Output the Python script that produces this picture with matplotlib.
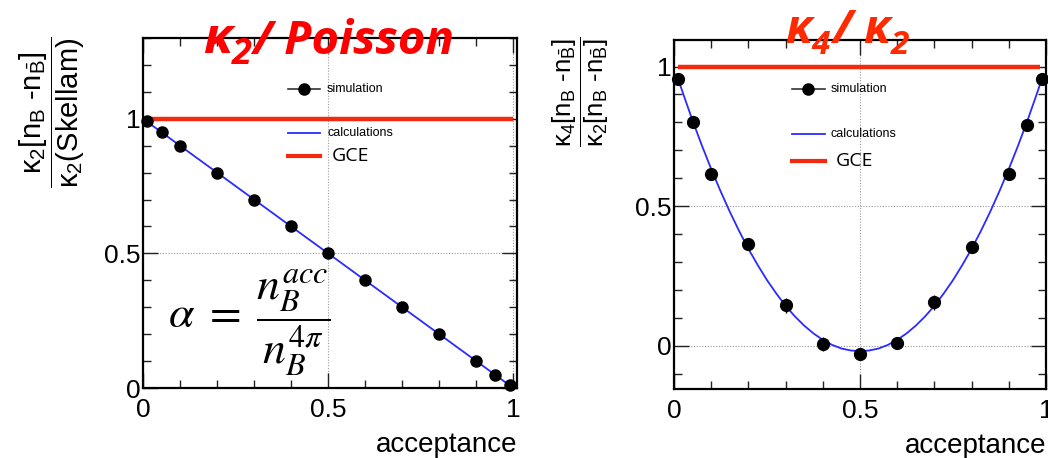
import matplotlib
matplotlib.use("Agg")
import matplotlib.pyplot as plt
from matplotlib.lines import Line2D
from matplotlib.ticker import MultipleLocator

plt.rcParams["font.family"] = ["Liberation Sans", "DejaVu Sans"]
plt.rcParams["mathtext.fontset"] = "custom"
plt.rcParams["mathtext.rm"] = "Liberation Sans"
plt.rcParams["mathtext.it"] = "Liberation Sans:italic"
plt.rcParams["mathtext.bf"] = "Liberation Sans:bold"

# ---- data -------------------------------------------------------------
acc_sim = [0.01, 0.05, 0.1, 0.2, 0.3, 0.4, 0.5, 0.6, 0.7, 0.8, 0.9, 0.95, 0.99]

k2_sim = [0.99, 0.95, 0.90, 0.80, 0.70, 0.60, 0.50, 0.40, 0.30, 0.20, 0.10, 0.05, 0.01]
k2_calc_acc = [0.01, 0.99]
k2_calc = [0.99, 0.01]

k4_sim = [0.955, 0.80, 0.615, 0.365, 0.145, 0.006, -0.03, 0.01, 0.155, 0.355, 0.615, 0.79, 0.955]
k4_err = [0.005, 0.01, 0.012, 0.018, 0.027, 0.025, 0.012, 0.015, 0.027, 0.02, 0.015, 0.01, 0.005]
k4_calc_acc = [0.01, 0.025, 0.05, 0.075, 0.10, 0.125, 0.15, 0.175, 0.20, 0.225, 0.25,
               0.275, 0.30, 0.325, 0.35, 0.375, 0.40, 0.425, 0.45, 0.475, 0.50,
               0.525, 0.55, 0.575, 0.60, 0.625, 0.65, 0.675, 0.70, 0.725, 0.75,
               0.775, 0.80, 0.825, 0.85, 0.875, 0.90, 0.925, 0.95, 0.975, 0.99]
k4_calc = [0.960, 0.901, 0.806, 0.717, 0.633, 0.554, 0.480, 0.411, 0.347, 0.289, 0.235,
           0.187, 0.143, 0.105, 0.072, 0.044, 0.021, 0.003, -0.010, -0.017, -0.020,
           -0.017, -0.010, 0.003, 0.021, 0.044, 0.072, 0.105, 0.143, 0.187, 0.235,
           0.289, 0.347, 0.411, 0.480, 0.554, 0.633, 0.717, 0.806, 0.901, 0.960]

gce_left_acc = [0.025, 1.0]
gce_right_acc = [0.01, 0.985]
gce_value = [1.0, 1.0]

x_ticks = [0, 0.5, 1]
x_tick_labels = ["0", "0.5", "1"]

# ---- figure -----------------------------------------------------------
W, H = 1048, 458
fig = plt.figure(figsize=(W / 100, H / 100), dpi=100)


def px_axes(x0, x1, ytop, ybot):
    return fig.add_axes([x0 / W, (H - ybot) / H, (x1 - x0) / W, (ybot - ytop) / H])


RED = "#f42a10"
BLUE = "#2b2bff"

ax1 = px_axes(143, 517, 38, 388)
ax2 = px_axes(674, 1046, 40, 389)


def style(ax, xmax, ylim, yticks, ylabels):
    ax.set_xlim(0, xmax)
    ax.set_ylim(*ylim)
    ax.set_xticks(x_ticks)
    ax.set_xticklabels(x_tick_labels)
    ax.set_yticks(yticks)
    ax.set_yticklabels(ylabels)
    ax.xaxis.set_minor_locator(MultipleLocator(0.1))
    ax.yaxis.set_minor_locator(MultipleLocator(0.1))
    ax.tick_params(which="both", direction="in", top=True, right=True, width=1.0,
                   colors="#222222", labelcolor="black")
    ax.tick_params(which="major", length=11)
    ax.tick_params(which="minor", length=6)
    ax.tick_params(axis="x", labelsize=19, pad=7)
    ax.tick_params(axis="y", labelsize=19, pad=2)
    for s in ax.spines.values():
        s.set_linewidth(1.6)
    ax.grid(True, which="major", ls=(0, (1, 1.5)), color="#999999", lw=0.8)
    ax.set_axisbelow(True)
    ax.text(1.0, -0.183, "acceptance", transform=ax.transAxes, ha="right",
            va="baseline", fontsize=20)


style(ax1, 1.01, (0, 1.3), [0, 0.5, 1], ["0", "0.5", "1"])
style(ax2, 1.0, (-0.155, 1.095), [0, 0.5, 1], ["0", "0.5", "1"])

# left panel: kappa2 / Poisson
ax1.plot(gce_left_acc, gce_value, color=RED, lw=3.2, solid_capstyle="butt", zorder=3)
ax1.plot(k2_calc_acc, k2_calc, color=BLUE, lw=1.3, zorder=4)
ax1.plot(acc_sim, k2_sim, "o", color="black", ms=8, zorder=5, clip_on=False)

# right panel: kappa4 / kappa2
ax2.plot(gce_right_acc, gce_value, color=RED, lw=3.2, solid_capstyle="butt", zorder=3)
ax2.plot(k4_calc_acc, k4_calc, color=BLUE, lw=1.3, zorder=4)
ax2.errorbar(acc_sim, k4_sim, yerr=k4_err, fmt="o", color="black", ms=8.5,
             elinewidth=1.0, capsize=0, zorder=5, clip_on=False)


# legends
def legend(ax, x0, x1, xt, xg, ys, yc, yg):
    tr = ax.transAxes
    ax.add_line(Line2D([x0, x1], [ys, ys], color="#333333", lw=1.2, transform=tr))
    ax.add_line(Line2D([(x0 + x1) / 2], [ys], marker="o", ms=8, color="black", transform=tr))
    ax.text(xt, ys, "simulation", transform=tr, fontsize=9, va="center")
    ax.add_line(Line2D([x0, x1], [yc, yc], color=BLUE, lw=1.3, transform=tr))
    ax.text(xt, yc, "calculations", transform=tr, fontsize=9, va="center")
    ax.add_line(Line2D([x0, x1], [yg, yg], color=RED, lw=3.0, transform=tr))
    ax.text(xg, yg, "GCE", transform=tr, fontsize=14, va="center", family="Open Sans")


legend(ax1, 0.388, 0.473, 0.492, 0.505, 0.854, 0.729, 0.663)
legend(ax2, 0.317, 0.406, 0.422, 0.435, 0.860, 0.731, 0.653)

# formula for the acceptance
ax1.text(0.285, 0.185, r"$\alpha\;=\;\dfrac{n_B^{acc}}{n_B^{4\pi}}$", transform=ax1.transAxes,
         ha="center", va="center", fontsize=33, math_fontfamily="stix")

# overlay for the axis titles and panel headings
ov = fig.add_axes([0, 0, 1, 1])
ov.set_xlim(0, W)
ov.set_ylim(H, 0)
ov.axis("off")
ov.set_zorder(10)

ov.text(52, 36,
        r"$\dfrac{\mathrm{\kappa_2[n_B\ \text{-}n_{\bar{B}}]}}{\mathrm{\kappa_2(Skellam)}}$",
        rotation=90, ha="center", va="top", fontsize=21)
ov.text(581, 37,
        r"$\dfrac{\mathrm{\kappa_4[n_B\ \text{-}n_{\bar{B}}]}}{\mathrm{\kappa_2[n_B\ \text{-}n_{\bar{B}}]}}$",
        rotation=90, ha="center", va="top", fontsize=18.5)

TFONT = dict(family="Open Sans", weight="bold", style="italic")
t1 = ov.text(203, 53, "κ", color="#ff0000", fontsize=37, va="baseline", **TFONT)
t2 = ov.annotate("2", xy=(1, 0), xycoords=t1, xytext=(0, -6), textcoords="offset points",
                 color="#ff0000", fontsize=26, va="bottom", ha="left", **TFONT)
ov.annotate("/ Poisson", xy=(1, 0), xycoords=(t2, t1), xytext=(0, 0),
            textcoords="offset points", color="#ff0000", fontsize=34, va="bottom",
            ha="left", **TFONT)

r1 = ov.text(785, 43, "κ", color="#ff2a00", fontsize=34, va="baseline", **TFONT)
r2 = ov.annotate("4", xy=(1, 0), xycoords=r1, xytext=(0, -6), textcoords="offset points",
                 color="#ff2a00", fontsize=24, va="bottom", ha="left", **TFONT)
r3 = ov.annotate("/ κ", xy=(1, 0), xycoords=(r2, r1), xytext=(1, 0),
                 textcoords="offset points", color="#ff2a00", fontsize=34, va="bottom",
                 ha="left", **TFONT)
ov.annotate("2", xy=(1, 0), xycoords=r3, xytext=(0, -6), textcoords="offset points",
            color="#ff2a00", fontsize=24, va="bottom", ha="left", **TFONT)

fig.savefig("out.png", dpi=100)
